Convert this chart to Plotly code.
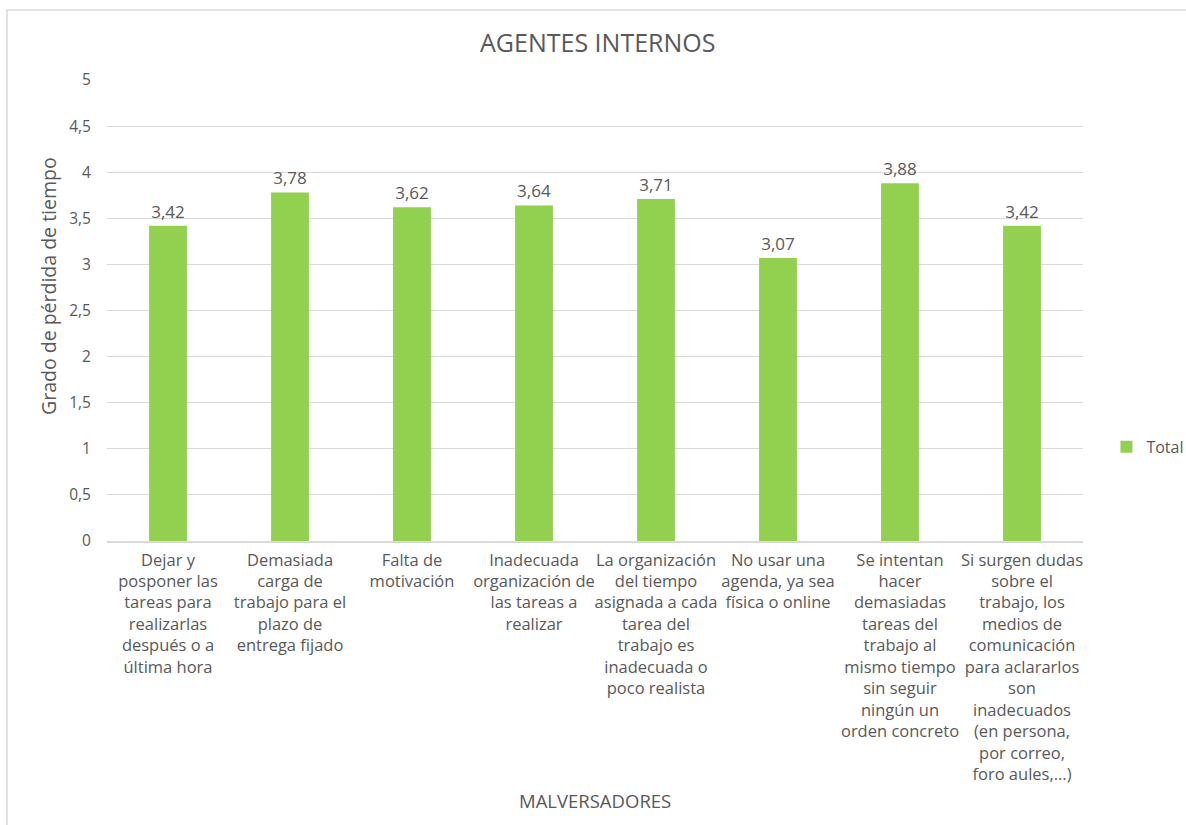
import plotly.graph_objects as go

# Factores internos y su valoración media
categorias = [
    "Dejar y<br>posponer las<br>tareas para<br>realizarlas<br>después o a<br>última hora",
    "Demasiada<br>carga de<br>trabajo para el<br>plazo de<br>entrega fijado",
    "Falta de<br>motivación",
    "Inadecuada<br>organización de<br>las tareas a<br>realizar",
    "La organización<br>del tiempo<br>asignada a cada<br>tarea del<br>trabajo es<br>inadecuada o<br>poco realista",
    "No usar una<br>agenda, ya sea<br>física o online",
    "Se intentan<br>hacer<br>demasiadas<br>tareas del<br>trabajo al<br>mismo tiempo<br>sin seguir<br>ningún un<br>orden concreto",
    "Si surgen dudas<br>sobre el<br>trabajo, los<br>medios de<br>comunicación<br>para aclararlos<br>son<br>inadecuados<br>(en persona,<br>por correo,<br>foro aules,...)",
]
valores = [3.42, 3.78, 3.62, 3.64, 3.71, 3.07, 3.88, 3.42]
ticks_y = [0, 0.5, 1, 1.5, 2, 2.5, 3, 3.5, 4, 4.5, 5]
ticks_y_texto = ["0", "0,5", "1", "1,5", "2", "2,5", "3", "3,5", "4", "4,5", "5"]

GRIS = "#595959"
FUENTE = "'Open Sans', Lato, sans-serif"

fig = go.Figure(
    go.Bar(
        x=list(range(len(categorias))),
        y=valores,
        name="Total",
        marker=dict(color="#92D050", line=dict(width=0)),
        text=[f"{v:.2f}".replace(".", ",") for v in valores],
        textposition="outside",
        textfont=dict(size=17, color=GRIS, family=FUENTE),
        cliponaxis=False,
        width=0.31,
    )
)

fig.update_layout(
    width=1186,
    height=825,
    paper_bgcolor="white",
    plot_bgcolor="white",
    font=dict(family=FUENTE, color=GRIS, size=16),
    margin=dict(l=107, r=103, t=80, b=284, autoexpand=False),
    title=dict(
        text="AGENTES INTERNOS",
        x=0.504,
        xanchor="center",
        y=1 - 43 / 825,
        yanchor="middle",
        font=dict(size=25, color=GRIS, family=FUENTE),
    ),
    showlegend=True,
    legend=dict(
        x=1.024,
        xanchor="left",
        y=0.204,
        yanchor="middle",
        font=dict(size=16, color=GRIS, family=FUENTE),
        itemwidth=30,
        bgcolor="rgba(0,0,0,0)",
    ),
    bargap=0.69,
    xaxis=dict(
        tickmode="array",
        tickvals=list(range(len(categorias))),
        ticktext=categorias,
        tickangle=0,
        range=[-0.5, len(categorias) - 0.5],
        showgrid=False,
        showline=True,
        linecolor="#D9D9D9",
        linewidth=1.5,
        ticks="outside",
        ticklen=3,
        tickcolor="white",
        tickfont=dict(size=16.5, color=GRIS, family=FUENTE),
        zeroline=False,
    ),
    yaxis=dict(
        range=[0, 5],
        tickvals=ticks_y,
        ticktext=ticks_y_texto,
        showgrid=True,
        gridcolor="#D9D9D9",
        gridwidth=1.2,
        zeroline=False,
        showline=False,
        ticks="outside",
        ticklen=12,
        tickcolor="white",
        tickfont=dict(size=15.5, color=GRIS, family=FUENTE),
    ),
    annotations=[
        # título del eje vertical
        dict(
            text="Grado de pérdida de tiempo",
            xref="paper",
            yref="paper",
            x=-(107 - 48) / 976,
            y=(541 - 286) / 461,
            xanchor="center",
            yanchor="middle",
            textangle=-90,
            showarrow=False,
            font=dict(size=19.5, color=GRIS, family=FUENTE),
        ),
        # título del eje horizontal
        dict(
            text="MALVERSADORES",
            xref="paper",
            yref="paper",
            x=0.5,
            y=-(800 - 541) / 461,
            xanchor="center",
            yanchor="middle",
            showarrow=False,
            font=dict(size=18.5, color=GRIS, family=FUENTE),
        ),
    ],
    shapes=[
        dict(
            type="rect",
            xref="paper",
            yref="paper",
            x0=-(107 - 7) / 976,
            x1=(1192 - 107) / 976,
            y0=-(830 - 541) / 461,
            y1=(541 - 10) / 461,
            line=dict(color="#D9D9D9", width=1.5),
            fillcolor="rgba(0,0,0,0)",
            layer="below",
        )
    ],
)

fig.write_html("out.html")
